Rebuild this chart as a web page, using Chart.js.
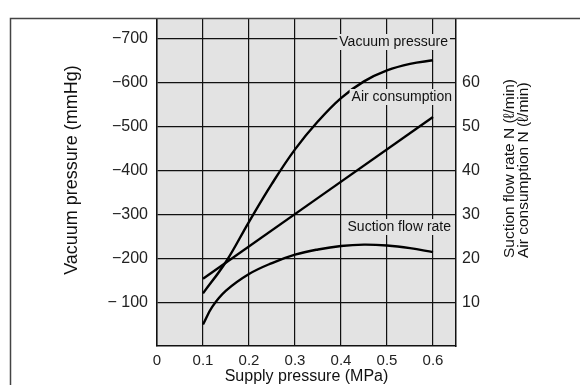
<!DOCTYPE html>
<html>
<head>
<meta charset="utf-8">
<script src="https://cdn.jsdelivr.net/npm/chart.js@4/dist/chart.umd.min.js"></script>
<style>
  body { margin: 0; background: #fff; }
  canvas { display: block; }
</style>
</head>
<body>
<canvas id="chart" width="580" height="385"></canvas>
<script>
// Data
const vacuumX        = [0.1, 0.15, 0.2, 0.25, 0.3, 0.35, 0.4, 0.45, 0.5, 0.55, 0.6];     // MPa
const vacuumPressure = [-120, -192, -283, -370, -448, -512, -565, -603, -628, -643, -651]; // mmHg
const suctionX       = [0.1, 0.12, 0.15, 0.2, 0.25, 0.3, 0.35, 0.4, 0.45, 0.5, 0.55, 0.6];
const suctionFlow    = [4.9, 8.9, 12.6, 16.4, 18.9, 20.8, 22.0, 22.8, 23.1, 22.9, 22.3, 21.4]; // ℓ/min
const airX           = [0.1, 0.6];
const airConsumption = [15.3, 52.2];                                                      // ℓ/min

const xTicks  = [0, 0.1, 0.2, 0.3, 0.4, 0.5, 0.6];
const yTicks  = [-700, -600, -500, -400, -300, -200, -100];
const y2Ticks = [10, 20, 30, 40, 50, 60];

const FONT = '"Liberation Sans", Arial, Helvetica, sans-serif';
const PLOT_BG = '#e3e3e3';

function pts(xs, ys){
  return xs.map((x, i) => ({ x: x, y: ys[i] }));
}

function lineSet(data, axis){
  return {
    data: data,
    yAxisID: axis,
    borderColor: '#000',
    borderWidth: 2.4,
    pointRadius: 0,
    fill: false,
    tension: 0.4
  };
}

// label with grey box that hides the grid under it
function boxedLabel(c, text, right, y){
  const w = c.measureText(text).width;
  c.fillStyle = PLOT_BG;
  c.fillRect(right - w - 2, y - 8, w + 4, 16);
  c.fillStyle = '#111';
  c.fillText(text, right, y);
}

// fond gris + cadre + textes
const decor = {
  id: 'decor',
  beforeDraw(chart){
    const c = chart.ctx, a = chart.chartArea;
    c.save();
    c.fillStyle = '#fff';
    c.fillRect(0, 0, chart.width, chart.height);
    c.fillStyle = PLOT_BG;
    c.fillRect(a.left, a.top, a.right - a.left, a.bottom - a.top);
    c.restore();
  },
  afterDraw(chart){
    const c = chart.ctx, a = chart.chartArea;
    c.save();
    // outer frame (left + top)
    c.strokeStyle = '#444';
    c.lineWidth = 1.5;
    c.beginPath();
    c.moveTo(10.5, chart.height);
    c.lineTo(10.5, a.top);
    c.lineTo(chart.width, a.top);
    c.stroke();

    // curve labels
    c.font = '14px ' + FONT;
    c.textAlign = 'right';
    c.textBaseline = 'middle';
    boxedLabel(c, 'Vacuum pressure', a.right - 8, 42);
    boxedLabel(c, 'Air consumption', a.right - 4, 97);
    boxedLabel(c, 'Suction flow rate', a.right - 5, 227);

    c.fillStyle = '#111';
    // x title
    c.font = '16px ' + FONT;
    c.textAlign = 'center';
    c.fillText('Supply pressure (MPa)', (a.left + a.right) / 2, 377);

    // left title
    c.save();
    c.translate(72, 170);
    c.rotate(-Math.PI / 2);
    c.font = '18px ' + FONT;
    c.fillText('Vacuum pressure (mmHg)', 0, 0);
    c.restore();

    // right title (two lines, starting from the bottom)
    c.save();
    c.translate(510, 258);
    c.rotate(-Math.PI / 2);
    c.font = '15.5px ' + FONT;
    c.textAlign = 'left';
    c.fillText('Suction flow rate N (\u2113/min)', 0, 0);
    c.fillText('Air consumption N (\u2113/min)', 0, 14);
    c.restore();

    c.restore();
  }
};

const gridOpts = { color: '#111', lineWidth: 1.2, drawTicks: false };
const borderOpts = { display: true, color: '#111', width: 1.5 };

new Chart(document.getElementById('chart'), {
  type: 'line',
  data: {
    datasets: [
      lineSet(pts(vacuumX, vacuumPressure), 'y'),
      lineSet(pts(airX, airConsumption), 'y2'),
      lineSet(pts(suctionX, suctionFlow), 'y2')
    ]
  },
  options: {
    responsive: false,
    animation: false,
    layout: { padding: { top: 9, left: 0, right: 0, bottom: 0 } },
    plugins: { legend: { display: false }, tooltip: { enabled: false } },
    scales: {
      x: {
        type: 'linear',
        min: 0,
        max: 0.65,
        afterBuildTicks: s => { s.ticks = xTicks.map(v => ({ value: v })); },
        afterFit: s => { s.height = 39; },
        ticks: {
          callback: v => v === 0 ? '0' : v.toFixed(1),
          font: { family: FONT, size: 15 },
          color: '#222',
          padding: 6
        },
        grid: gridOpts,
        border: borderOpts
      },
      y: {
        position: 'left',
        min: -746,
        max: 0,
        reverse: true,
        afterBuildTicks: s => { s.ticks = yTicks.map(v => ({ value: v })); },
        afterFit: s => { s.width = 157; },
        ticks: {
          callback: v => v === -100 ? '\u2212 100' : '\u2212' + (-v),
          font: { family: FONT, size: 16 },
          color: '#222',
          padding: 9
        },
        grid: gridOpts,
        border: borderOpts
      },
      y2: {
        position: 'right',
        min: 0,
        max: 74.6,
        afterBuildTicks: s => { s.ticks = y2Ticks.map(v => ({ value: v })); },
        afterFit: s => { s.width = 124; },
        ticks: {
          font: { family: FONT, size: 16 },
          color: '#222',
          padding: 6
        },
        grid: { display: false, drawTicks: false },
        border: borderOpts
      }
    }
  },
  plugins: [decor]
});
</script>
</body>
</html>
